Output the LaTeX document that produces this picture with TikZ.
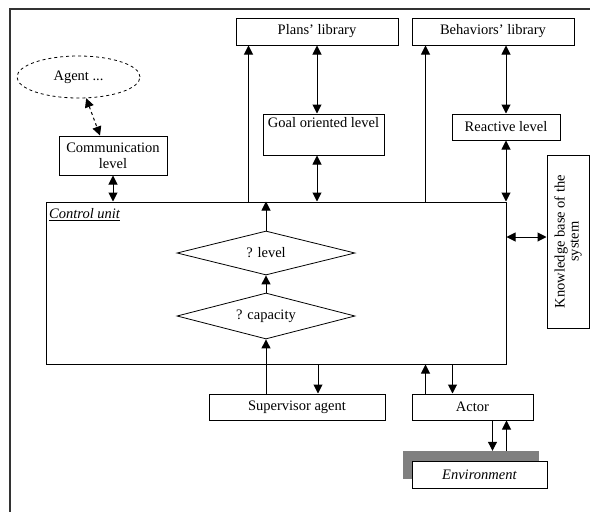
\documentclass[tikz,border=0pt]{standalone}
\usepackage{fontspec}
\setmainfont{Liberation Serif}
\usetikzlibrary{arrows.meta,shapes.geometric}
\begin{document}
\begin{tikzpicture}[x=1pt,y=-1pt,
  font=\fontsize{14.5}{17}\selectfont,
  box/.style={draw, line width=1pt, fill=white, inner sep=2pt, align=center},
  dia/.style={draw, line width=0.8pt, diamond, aspect=4, inner sep=0pt, minimum width=178pt, minimum height=44pt},
  tip/.style={-{Triangle[width=9pt,length=9pt]}},
  arr/.style={line width=1pt, tip},
  dbl/.style={line width=1pt, {Triangle[width=9pt,length=9pt]}-{Triangle[width=9pt,length=9pt]}}]
\useasboundingbox (0,0) rectangle (590,512);
% outer frame
\draw[line width=1.2pt, draw=black!80] (10,512) -- (10,9) -- (590,9);
% nodes
\node[box, minimum width=162pt, minimum height=27pt] (plans) at (317,31.5) {Plans' library};
\node[box, minimum width=162pt, minimum height=27pt] (beh) at (493,31.5) {Behaviors' library};
\node[draw, dashed, line width=0.8pt, ellipse, minimum width=123pt, minimum height=42pt, inner sep=0pt] (agent) at (78.5,77) {Agent ...};
\node[box, minimum width=108pt, minimum height=39pt, inner sep=1pt, font=\fontsize{14.5}{16}\selectfont] (comm) at (113,155.5) {Communication\\level};
\node[box, minimum width=121pt, minimum height=41pt,
  label={[anchor=north, inner sep=4pt]north:Goal oriented level}] (goal) at (323.5,134.5) {};
\node[box, minimum width=108pt, minimum height=26pt] (react) at (506,127) {Reactive level};
\node[box, minimum width=173pt, minimum height=42pt, rotate=90, inner sep=1pt, font=\fontsize{14.5}{14}\selectfont] (kb) at (568,241.5) {Knowledge base of the\\system};
\node[draw, line width=1pt, minimum width=460pt, minimum height=162pt, inner sep=0pt] (control) at (276,283) {};
\node[anchor=north west, inner sep=0pt] (culabel) at (49,208) {\underline{\textit{Control unit}}};
\node[dia] (dlevel) at (266,253) {? level};
\node[dia, minimum height=46pt] (dcap) at (266,316) {? capacity};
\node[box, minimum width=176pt, minimum height=26pt] (sup) at (297,407) {Supervisor agent};
\node[box, minimum width=121pt, minimum height=26pt] (actor) at (472.5,407) {Actor};
\node[fill=black!50, minimum width=136pt, minimum height=28pt, inner sep=0pt] (envsh) at (471,465) {};
\node[box, minimum width=135pt, minimum height=27pt] (env) at (479.5,474.5) {\textit{Environment}};
% connectors
\draw[dbl, dashed] (agent.290) -- ([xshift=-13pt]comm.north);
\draw[dbl] (comm.south) -- (comm.south |- control.north);
\draw[arr] ([xshift=13pt]plans.south west |- control.north) -- ([xshift=13pt]plans.south west);
\draw[arr] (dlevel.north) -- (dlevel.north |- control.north);
\draw[dbl] (plans.south) -- (plans.south |- goal.north);
\draw[dbl] (plans.south |- goal.south) -- (plans.south |- control.north);
\draw[arr] ([xshift=14pt]beh.south west |- control.north) -- ([xshift=14pt]beh.south west);
\draw[dbl] (react.north |- beh.south) -- (react.north);
\draw[dbl] (react.south) -- (react.south |- control.north);
\draw[dbl] ([yshift=46pt]control.east) -- ([yshift=46pt]control.east -| kb.north);
\draw[arr] (dcap.north) -- (dlevel.south);
\draw[arr] (dcap.south |- sup.north) -- (dcap.south);
\draw[arr] ([xshift=21pt]sup.north |- control.south) -- ([xshift=21pt]sup.north);
\draw[arr] ([xshift=14pt]actor.north west) -- ([xshift=14pt]actor.north west |- control.south);
\draw[arr] ([xshift=41pt]actor.north west |- control.south) -- ([xshift=41pt]actor.north west);
\draw[arr] ([xshift=81pt]actor.south west) -- ([xshift=81pt]actor.south west |- envsh.north);
\draw[arr] ([xshift=95pt]actor.south west |- envsh.north) -- ([xshift=95pt]actor.south west);
\end{tikzpicture}
\end{document}
